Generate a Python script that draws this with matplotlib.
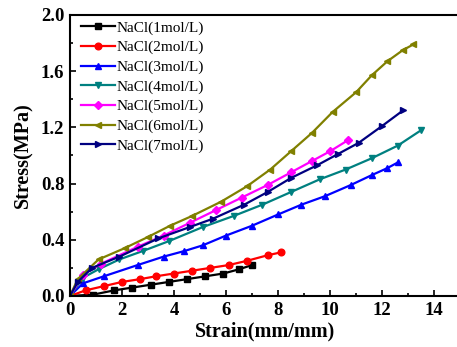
import matplotlib
matplotlib.use("Agg")
import matplotlib.pyplot as plt
from matplotlib.ticker import MultipleLocator

plt.rcParams['font.family'] = ['Liberation Serif', 'DejaVu Serif']

# Series (strain, stress)
labels = ['NaCl(1mol/L)', 'NaCl(2mol/L)', 'NaCl(3mol/L)', 'NaCl(4mol/L)',
          'NaCl(5mol/L)', 'NaCl(6mol/L)', 'NaCl(7mol/L)']

x1 = [0, 0.9, 1.7, 2.4, 3.1, 3.8, 4.5, 5.2, 5.9, 6.5, 7.0]
y1 = [0, 0.01, 0.04, 0.06, 0.08, 0.10, 0.12, 0.14, 0.16, 0.19, 0.22]

x2 = [0, 0.6, 1.3, 2.0, 2.7, 3.3, 4.0, 4.7, 5.4, 6.1, 6.8, 7.6, 8.1]
y2 = [0, 0.04, 0.07, 0.10, 0.12, 0.14, 0.16, 0.18, 0.20, 0.22, 0.25, 0.29, 0.31]

x3 = [0, 0.5, 1.3, 2.6, 3.6, 4.4, 5.1, 6.0, 7.0, 8.0, 8.9, 9.8, 10.8, 11.6, 12.2, 12.6]
y3 = [0, 0.09, 0.14, 0.22, 0.28, 0.32, 0.36, 0.43, 0.50, 0.58, 0.65, 0.71, 0.79, 0.86, 0.91, 0.95]

x4 = [0, 0.5, 1.1, 1.9, 2.8, 3.8, 5.1, 6.3, 7.4, 8.5, 9.6, 10.6, 11.6, 12.6, 13.5]
y4 = [0, 0.13, 0.19, 0.26, 0.32, 0.39, 0.49, 0.57, 0.65, 0.74, 0.83, 0.90, 0.98, 1.07, 1.18]

x5 = [0, 0.5, 1.2, 2.6, 3.6, 4.6, 5.6, 6.6, 7.6, 8.5, 9.3, 10.0, 10.7]
y5 = [0, 0.15, 0.23, 0.35, 0.43, 0.52, 0.61, 0.70, 0.79, 0.88, 0.96, 1.03, 1.11]

x6 = [0, 0.3, 1.1, 2.1, 3.0, 3.85, 4.7, 5.8, 6.8, 7.7, 8.5, 9.3, 10.1, 11.0, 11.6, 12.2, 12.8, 13.2]
y6 = [0, 0.12, 0.26, 0.34, 0.42, 0.50, 0.57, 0.67, 0.78, 0.90, 1.03, 1.16, 1.31, 1.45, 1.57, 1.67, 1.75, 1.79]

x7 = [0, 0.3, 0.85, 1.9, 3.4, 4.6, 5.5, 6.7, 7.6, 8.5, 9.5, 10.3, 11.1, 12.0, 12.8]
y7 = [0, 0.10, 0.20, 0.28, 0.41, 0.49, 0.55, 0.65, 0.74, 0.84, 0.93, 1.01, 1.09, 1.21, 1.32]

series_x = [x1, x2, x3, x4, x5, x6, x7]
series_y = [y1, y2, y3, y4, y5, y6, y7]
colors = ['#000000', '#ff0000', '#0000ff', '#008080', '#ff00ff', '#808000', '#000080']
markers = ['s', 'o', '^', 'v', 'D', '<', '>']

fig = plt.figure(figsize=(4.57, 3.47), dpi=100)
ax = fig.add_axes([0.153, 0.147, 0.854, 0.81])

for xs, ys, c, m, lab in zip(series_x, series_y, colors, markers, labels):
    ms = 4.0 if m in ('D', 's') else 4.8
    ax.plot(xs, ys, color=c, marker=m, markersize=ms, linewidth=1.6, label=lab)

ax.set_xlim(0, 15)
ax.set_ylim(0, 2.0)
ax.xaxis.set_major_locator(MultipleLocator(2))
ax.xaxis.set_minor_locator(MultipleLocator(1))
ax.yaxis.set_major_locator(MultipleLocator(0.4))
ax.yaxis.set_minor_locator(MultipleLocator(0.2))
ax.tick_params(which='both', direction='in', width=1.2)
ax.tick_params(which='major', length=4, labelsize=13.5, pad=4)
ax.tick_params(which='minor', length=2)
for lbl in ax.get_xticklabels() + ax.get_yticklabels():
    lbl.set_fontweight('bold')
for s in ax.spines.values():
    s.set_linewidth(1.5)

ax.set_xlabel('Strain(mm/mm)', fontsize=14.5, fontweight='bold', labelpad=2)
ax.set_ylabel('Stress(MPa)', fontsize=14.5, fontweight='bold', labelpad=5)

ax.legend(loc='upper left', frameon=False, fontsize=11, handlelength=2.2,
          handletextpad=0.1, labelspacing=0.38, borderaxespad=0.0,
          borderpad=0.3, bbox_to_anchor=(0.017, 0.995))

fig.savefig('out.png', dpi=100)
